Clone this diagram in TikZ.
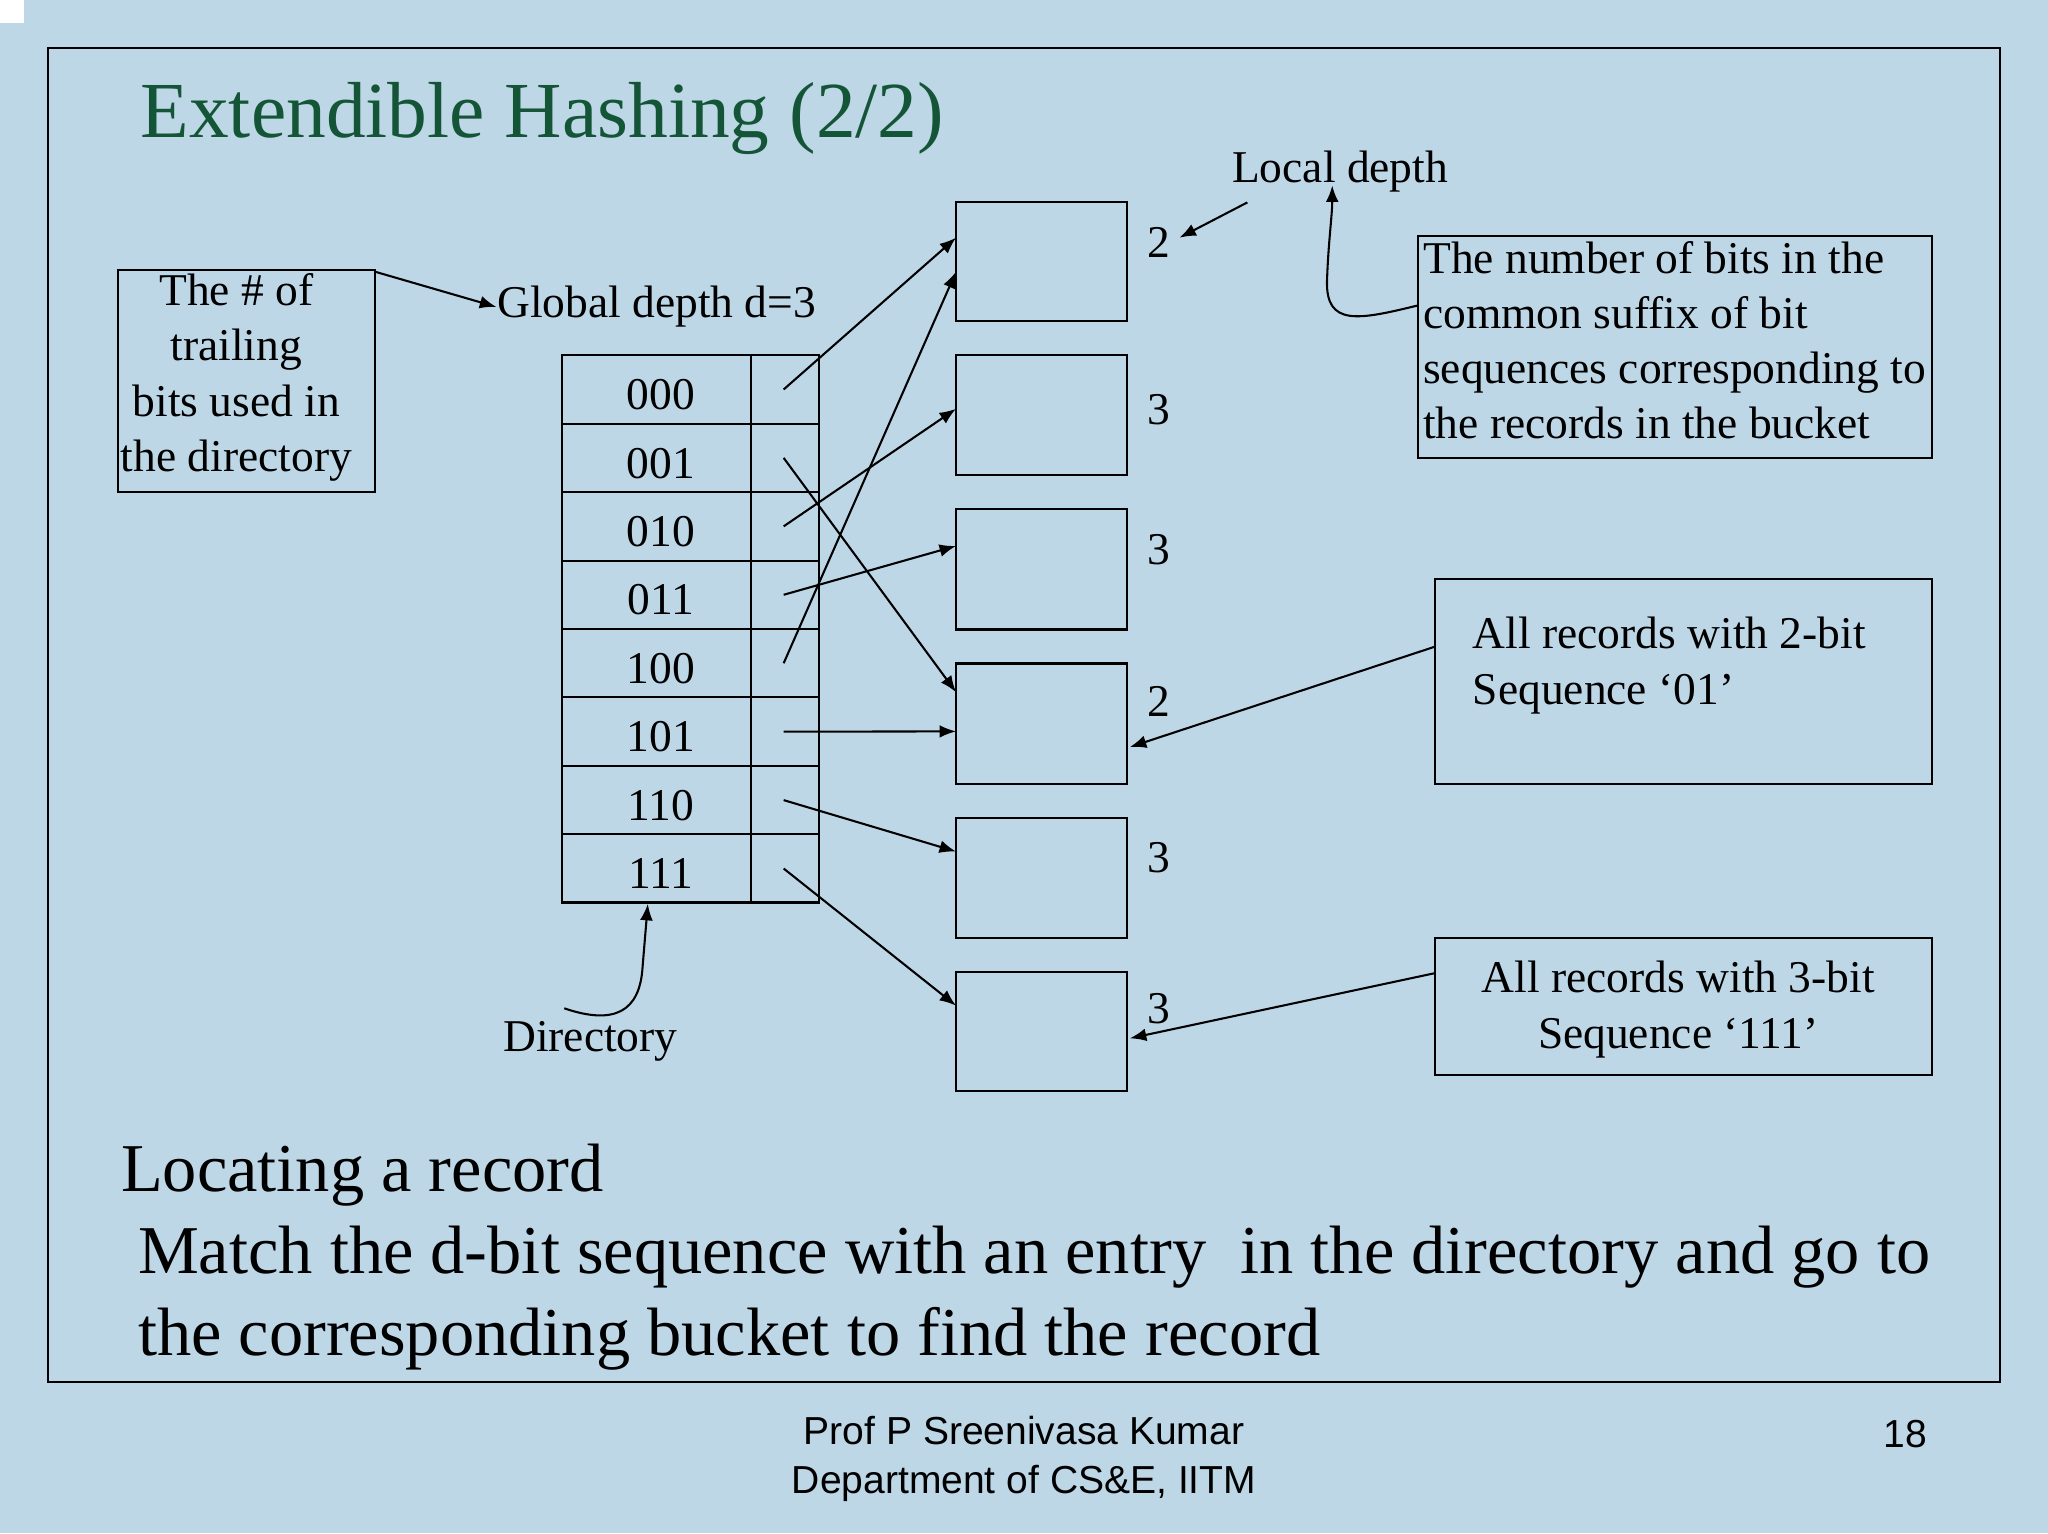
\documentclass[tikz,border=0pt]{standalone}
\usepackage{fontspec}
\setmainfont{Liberation Serif}
\newfontfamily\sans{Liberation Sans}
\usetikzlibrary{arrows.meta}
\begin{document}
\begin{tikzpicture}[x=0.01cm,y=-0.01cm,
  ln/.style={line width=0.45pt},
  arr/.style={ln,-{Latex[length=3.6pt,width=2.8pt]}},
  txt/.style={font=\fontsize{9.9}{12}\selectfont,inner sep=0},
  dtxt/.style={font=\fontsize{9.9}{12}\selectfont,inner sep=0}]
\fill[fill={rgb,255:red,190;green,215;blue,231}] (0,0) rectangle (1568,1174);
\useasboundingbox (0,0) rectangle (1568,1174);
\fill[white] (0,0) rectangle (18,18);
\draw[ln] (37,37) rectangle (1531,1058);
\node[anchor=base west,inner sep=0,text={rgb,255:red,20;green,85;blue,55},font=\fontsize{17.3}{22}\selectfont] (title) at (107,105) {Extendible Hashing (2/2)};
% left box
\draw[ln] (90,207) rectangle (287,377);
\node[txt,align=center] (lb) at (181,289) {The \# of\\ trailing\\ bits used in\\ the directory};
\coordinate (lbc) at (287,208);
\node[txt,anchor=west] (gd) at (380,235) {Global depth d=3};
\draw[arr] (lbc) -- (gd.west);
% directory
\draw[ln] (430,272) rectangle (627,691);
\draw[ln] (575,272) -- (575,691);
\foreach \i/\lab in {0/000,1/001,2/010,3/011,4/100,5/101,6/110,7/111}{
  \pgfmathsetmacro{\yy}{272+52.4*\i}
  \pgfmathsetmacro{\yc}{\yy+26.2}
  \ifnum\i>0 \draw[ln] (430,\yy) -- (627,\yy);\fi
  \node[dtxt] (l\i) at (506,\yc+4) {\lab};
  \coordinate (p\i) at (600,\yc);
}
% buckets
\foreach \n/\ya/\yb in {1/155/246,2/272/364,3/390/482,4/508/600,5/626/718,6/744/835}{
  \draw[ln] (732,\ya) rectangle (863,\yb);
}
\coordinate (t1a) at (732,182); \coordinate (t1b) at (732,208);
\coordinate (t2) at (732,313); \coordinate (t3) at (732,418);
\coordinate (t4a) at (732,530); \coordinate (t4b) at (732,560);
\coordinate (t5) at (732,652); \coordinate (t6) at (732,770);
\draw[arr] (p0) -- (t1a);
\draw[arr] (p1) -- (t4a);
\draw[arr] (p2) -- (t2);
\draw[arr] (p3) -- (t3);
\draw[arr] (p4) -- (t1b);
\draw[arr] (p5) -- (t4b);
\draw[arr] (p6) -- (t5);
\draw[arr] (p7) -- (t6);
\foreach \y/\d in {186/2,314/3,421/3,537/2,657/3,772/3}{
  \node[dtxt] at (887,\y) {\d};
}
\node[dtxt] (ld) at (1026,131) {Local depth};
\coordinate (lds) at (955,155); \coordinate (ldt) at (903,182);
\draw[arr] (lds) -- (ldt);
% right box 1
\draw[ln] (1086,181) rectangle (1479,351);
\node[txt,anchor=north west,align=left] (rb1) at (1089,184) {The number of bits in the\\ common suffix of bit\\ sequences corresponding to\\ the records in the bucket};
\coordinate (rb1c) at (1085,234); \coordinate (ldu) at (1020,142);
\draw[arr] (rb1c) .. controls (1040,245) and (1015,250) .. (1016,215) .. controls (1017,185) and (1020,165) .. (ldu);
% right box 2
\draw[ln] (1099,443) rectangle (1479,600);
\node[txt,anchor=north west,align=left] (rb2) at (1127,472) {All records with 2-bit\\ Sequence ‘01’};
\coordinate (rb2c) at (1099,495); \coordinate (b4r) at (865,572);
\draw[arr] (rb2c) -- (b4r);
% right box 3
\draw[ln] (1099,718) rectangle (1479,823);
\node[txt,align=center] (rb3) at (1285,773) {All records with 3-bit\\ Sequence ‘111’};
\coordinate (rb3c) at (1099,745); \coordinate (b6r) at (865,795);
\draw[arr] (rb3c) -- (b6r);
% directory label
\node[dtxt] (dir) at (452,797) {Directory};
\coordinate (dirs) at (432,772); \coordinate (dirt) at (496,692);
\draw[arr] (dirs) .. controls (470,785) and (490,775) .. (492,740) -- (dirt);
% bottom text
\node[anchor=base west,inner sep=0,font=\fontsize{14.9}{18}\selectfont] (loc) at (92,912) {Locating a record};
\node[anchor=base west,inner sep=0,font=\fontsize{14.9}{18}\selectfont] (m1) at (105,975) {Match the d-bit sequence with an entry\ \ in the directory and go to};
\node[anchor=base west,inner sep=0,font=\fontsize{14.9}{18}\selectfont] (m2) at (105,1038) {the corresponding bucket to find the record};
% footer
\node[font=\sans\fontsize{8.5}{10.5}\selectfont,align=center,inner sep=0] (ft) at (784,1117) {Prof P Sreenivasa Kumar\\ Department of CS\&E, IITM};
\node[font=\sans\fontsize{8.5}{10}\selectfont,inner sep=0] (pg) at (1459,1098) {18};
\end{tikzpicture}
\end{document}
